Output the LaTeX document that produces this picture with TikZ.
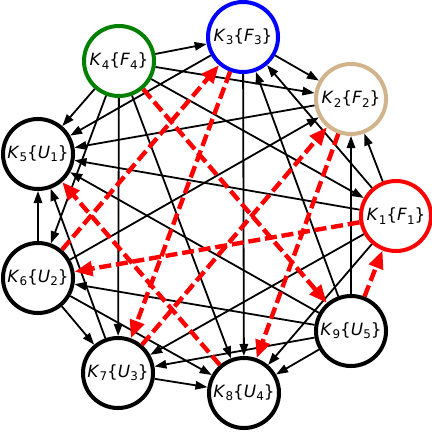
\documentclass[tikz,border=0pt]{standalone}
\usepackage{fontspec}
\newfontfamily\lblfont{DejaVu Sans}
\usetikzlibrary{arrows.meta}
\definecolor{tanring}{HTML}{D2B48C}
\definecolor{greenring}{HTML}{008000}
\newcommand{\sbs}[1]{\raisebox{-0.35ex}{\fontsize{8.5}{8.5}\selectfont #1}}
\newcommand{\kf}[4]{\textit{#1}\sbs{#2}\{\textit{#3}\sbs{#4}\}}

\begin{document}
\begin{tikzpicture}[x=0.025cm, y=-0.025cm, line join=round,
		vtx/.style={circle, draw=black, line width=0.1cm, fill=white, minimum size=1.75cm, inner sep=0pt, font=\lblfont\fontsize{12}{14}\selectfont},
		edge/.style={-{Triangle[length=0.3cm,width=0.21cm]}, line width=0.045cm},
		tour/.style={-{Triangle[length=0.45cm,width=0.36cm]}, red, line width=0.11cm, dash pattern=on 0.3cm off 0.12cm}]
		\useasboundingbox (0,0) rectangle (432,432);
		% vertices
		\node[vtx, draw=red] (k1) at (396,216) {\kf{K}{1}{F}{1}};
		\node[vtx, draw=tanring] (k2) at (351,99) {\kf{K}{2}{F}{2}};
		\node[vtx, draw=blue] (k3) at (243,37) {\kf{K}{3}{F}{3}};
		\node[vtx, draw=greenring] (k4) at (119,61) {\kf{K}{4}{F}{4}};
		\node[vtx] (k5) at (38,154) {\kf{K}{5}{U}{1}};
		\node[vtx] (k6) at (38,278) {\kf{K}{6}{U}{2}};
		\node[vtx] (k7) at (118,373) {\kf{K}{7}{U}{3}};
		\node[vtx] (k8) at (244,393) {\kf{K}{8}{U}{4}};
		\node[vtx] (k9) at (351,331) {\kf{K}{9}{U}{5}};
		% arcs out of K4
		\draw[edge] (k4) -- (k3);
		\draw[edge] (k4) -- (k2);
		\draw[edge] (k4) -- (k1);
		\draw[edge] (k4) -- (k5);
		\draw[edge] (k4) -- (k6);
		\draw[edge] (k4) -- (k7);
		\draw[edge] (k4) -- (k8);
		% arcs out of K9
		\draw[edge] (k9) -- (k2);
		\draw[edge] (k9) -- (k3);
		\draw[edge] (k9) -- (k5);
		\draw[edge] (k9) -- (k6);
		\draw[edge] (k9) -- (k7);
		\draw[edge] (k9) -- (k8);
		% arcs out of K1
		\draw[edge] (k1) -- (k2);
		\draw[edge] (k1) -- (k3);
		\draw[edge] (k1) -- (k5);
		\draw[edge] (k1) -- (k7);
		\draw[edge] (k1) -- (k8);
		% arcs out of K3, K2
		\draw[edge] (k3) -- (k2);
		\draw[edge] (k3) -- (k5);
		\draw[edge] (k3) -- (k8);
		\draw[edge] (k2) -- (k5);
		% arcs out of K6, K7
		\draw[edge] (k6) -- (k5);
		\draw[edge] (k6) -- (k2);
		\draw[edge] (k6) -- (k8);
		\draw[edge] (k6) -- (k7);
		\draw[edge] (k7) -- (k5);
		\draw[edge] (k7) -- (k8);
		% hamiltonian path
		\draw[tour] (k4) -- (k9);
		\draw[tour] (k9) -- (k1);
		\draw[tour] (k1) -- (k6);
		\draw[tour] (k6) -- (k3);
		\draw[tour] (k3) -- (k7);
		\draw[tour] (k7) -- (k2);
		\draw[tour] (k2) -- (k8);
		\draw[tour] (k8) -- (k5);
	\end{tikzpicture}
\end{document}
